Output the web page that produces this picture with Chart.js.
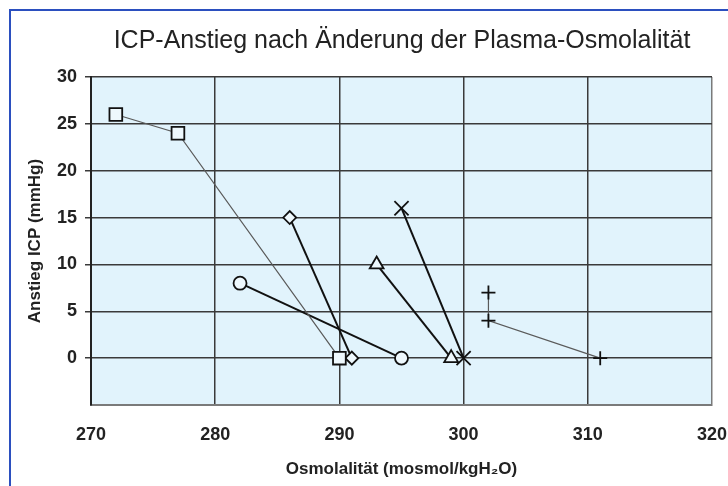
<!DOCTYPE html>
<html lang="de">
<head>
    <meta charset="UTF-8">
    <title>ICP-Anstieg nach Änderung der Plasma-Osmolalität</title>
    <script src="https://cdn.jsdelivr.net/npm/chart.js@4.4.1/dist/chart.umd.min.js"></script>
    <style>
        body {
            margin: 0;
            padding: 0;
            background-color: #ffffff;
        }
        #chartBox {
            width: 728px;
            height: 486px;
        }
    </style>
</head>
<body>

<div id="chartBox">
    <canvas id="icpChart" width="728" height="486"></canvas>
</div>

<script>
    // values: osmolality (x) and ICP rise (y) per series
    const squareOsmo = [272, 277, 290];
    const squareIcp = [26, 24, 0];
    const diamondOsmo = [286, 291];
    const diamondIcp = [15, 0];
    const circleOsmo = [282, 295];
    const circleIcp = [8, 0];
    const triangleOsmo = [293, 299];
    const triangleIcp = [10, 0];
    const crossOsmo = [295, 300];
    const crossIcp = [16, 0];
    const plusOsmo = [302, 302, 311];
    const plusIcp = [7, 4, 0];

    const xTicks = [270, 280, 290, 300, 310, 320];
    const yTicks = [0, 5, 10, 15, 20, 25, 30];

    const chartTitle = 'ICP-Anstieg nach Änderung der Plasma-Osmolalität';

    function toPoints(xs, ys) {
        return xs.map((x, i) => ({ x: x, y: ys[i] }));
    }

    function series(xs, ys, style, radius, thin) {
        return {
            data: toPoints(xs, ys),
            showLine: true,
            borderColor: thin ? '#5a5a5a' : '#111111',
            borderWidth: thin ? 1.2 : 2,
            pointStyle: style,
            pointRadius: radius,
            pointBorderColor: '#111111',
            pointBackgroundColor: '#eef8fd',
            pointBorderWidth: 1.8
        };
    }

    // light blue plot area, the title and the blue frame round the whole chart
    const backdrop = {
        id: 'backdrop',
        beforeDraw(chart) {
            const { ctx, chartArea: a } = chart;
            ctx.save();
            ctx.fillStyle = '#e1f3fc';
            ctx.fillRect(a.left, a.top, a.right - a.left, a.bottom - a.top);
            ctx.restore();
        },
        afterDraw(chart) {
            const ctx = chart.ctx;
            ctx.save();
            ctx.fillStyle = '#222222';
            ctx.font = '25px "Liberation Sans", Arial, sans-serif';
            ctx.textAlign = 'center';
            ctx.textBaseline = 'middle';
            ctx.fillText(chartTitle, 402, 41);
            ctx.strokeStyle = '#2b4fbf';
            ctx.lineWidth = 2;
            ctx.strokeRect(10, 10, 760, 520);
            ctx.restore();
        }
    };

    const ctx = document.getElementById('icpChart').getContext('2d');
    new Chart(ctx, {
        type: 'scatter',
        data: {
            datasets: [
                series(squareOsmo, squareIcp, 'rect', 9, true),
                series(diamondOsmo, diamondIcp, 'rectRot', 6.5, false),
                series(circleOsmo, circleIcp, 'circle', 6.5, false),
                series(triangleOsmo, triangleIcp, 'triangle', 8, false),
                series(crossOsmo, crossIcp, 'crossRot', 10, false),
                series(plusOsmo, plusIcp, 'cross', 7, true)
            ]
        },
        options: {
            responsive: false,
            animation: false,
            layout: { padding: { left: 0, right: 16, top: 77, bottom: 0 } },
            plugins: {
                legend: { display: false },
                tooltip: { enabled: false },
                title: { display: false }
            },
            scales: {
                x: {
                    type: 'linear',
                    min: 270,
                    max: 320,
                    afterBuildTicks: (scale) => { scale.ticks = xTicks.map(v => ({ value: v })); },
                    afterFit: (scale) => {
                        scale.height = 81;
                        scale.paddingLeft = 0;
                        scale.paddingRight = 0;
                    },
                    grid: {
                        color: (c) => c.tick && c.tick.value === 320 ? '#7a7a7a' : '#3a3a3a',
                        lineWidth: 1.5,
                        drawTicks: false
                    },
                    border: { color: '#7a7a7a', width: 2 },
                    ticks: {
                        padding: 19,
                        color: '#222222',
                        font: { family: 'Liberation Sans', size: 18, weight: 'bold' }
                    },
                    title: {
                        display: true,
                        text: 'Osmolalität (mosmol/kgH₂O)',
                        color: '#222222',
                        font: { family: 'Liberation Sans', size: 17, weight: 'bold' },
                        padding: { top: 4, bottom: 6 }
                    }
                },
                y: {
                    type: 'linear',
                    min: -5,
                    max: 30,
                    afterBuildTicks: (scale) => { scale.ticks = yTicks.map(v => ({ value: v })); },
                    afterFit: (scale) => {
                        scale.width = 91;
                        scale.paddingTop = 0;
                        scale.paddingBottom = 0;
                    },
                    grid: {
                        color: '#3a3a3a',
                        lineWidth: 1.5,
                        drawTicks: true,
                        tickLength: 6
                    },
                    border: { color: '#222222', width: 2 },
                    ticks: {
                        padding: 8,
                        color: '#222222',
                        font: { family: 'Liberation Sans', size: 18, weight: 'bold' }
                    },
                    title: {
                        display: true,
                        text: 'Anstieg ICP (mmHg)',
                        color: '#222222',
                        font: { family: 'Liberation Sans', size: 17, weight: 'bold' },
                        padding: { top: 25, bottom: 4 }
                    }
                }
            }
        },
        plugins: [backdrop]
    });
</script>

</body>
</html>
